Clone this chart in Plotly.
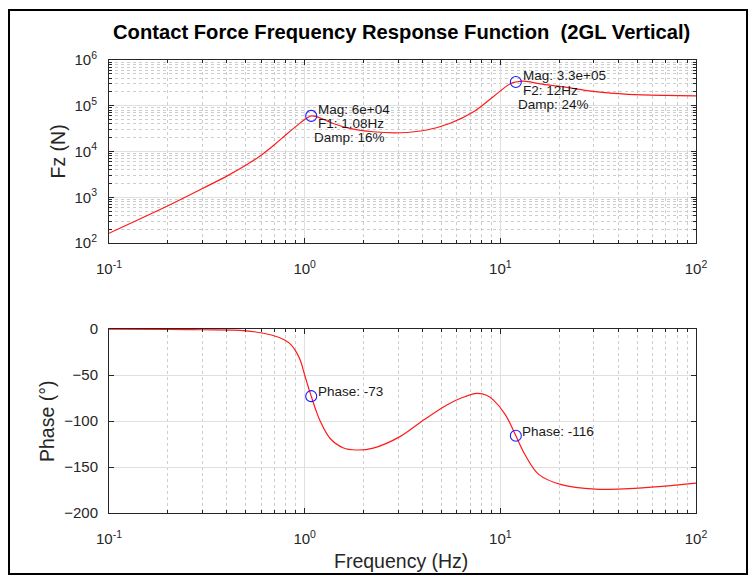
import math
import plotly.graph_objects as go

# ---- data ----
freq_mag = [0.1, 0.2, 0.3, 0.4, 0.5, 0.6, 0.7, 0.8, 0.9, 1.0, 1.08, 1.15, 1.4, 1.7, 2.24, 3.07,
            4.2, 5.5, 7.3, 9.2, 11.2, 12, 13.2, 16, 20.6, 30.6, 45, 70, 100]
mag = [163, 650, 1550, 2900, 5000, 8300, 14000, 23000, 35000, 50000, 60000, 58000, 41000, 32000, 27000, 25700,
       29500, 41000, 74000, 158000, 300000, 330000, 345000, 300000, 261000, 203000, 178000, 168000, 165000]

freq_ph = [0.1, 0.2, 0.3, 0.5, 0.676, 0.79, 0.85, 0.9, 0.95, 1.0, 1.04, 1.08, 1.14, 1.2, 1.35,
           1.57, 1.84, 2.24, 3.07, 4.05, 5.33, 6.4, 7.6, 8.5, 9.2, 10.6, 12, 13.4, 15.7, 20.7, 30.6, 45, 67, 100]
phase = [-0.2, -0.4, -0.8, -2, -6.5, -12, -17, -24, -34, -50, -62, -73, -88, -100, -119,
         -129, -131.5, -129.5, -117, -99, -82.5, -74.5, -70, -72, -77, -93, -116, -137, -158, -169.5,
         -174, -173.5, -171, -167.5]

peak_f = [1.08, 12]
peak_mag = [6e4, 3.3e5]
peak_phase = [-73, -116]
mag_labels = [["Mag: 6e+04", "F1: 1.08Hz", "Damp: 16%"],
              ["Mag: 3.3e+05", "F2: 12Hz", "Damp: 24%"]]
phase_labels = ["Phase: -73", "Phase: -116"]

x_tickvals = [0.1, 1, 10, 100]
x_ticktext = ["10<sup>-1</sup>", "10<sup>0</sup>", "10<sup>1</sup>", "10<sup>2</sup>"]
y_tickvals = [1e2, 1e3, 1e4, 1e5, 1e6]
y_ticktext = ["10<sup>2</sup>", "10<sup>3</sup>", "10<sup>4</sup>", "10<sup>5</sup>", "10<sup>6</sup>"]
ph_tickvals = [-200, -150, -100, -50, 0]

title = "Contact Force Frequency Response Function  (2GL Vertical)"

# ---- layout geometry ----
W, H = 755, 577
L, R, T, B = 109, 59, 60, 64
PW, PH = W - L - R, H - T - B

def px(x):
    return (x - L) / PW

def py(y):
    return (H - B - y) / PH

FONT = "Liberation Sans, Arial, Helvetica, sans-serif"
AX = "#262626"
GRID = "#e0e0e0"
MGRID = "#cdcdcd"

LINE = dict(color="#ff1a1a", width=1.2, shape="spline", smoothing=1.0)
MARK = dict(symbol="circle-open", size=11, color="#1a1aff", line=dict(width=1.1))

fig = go.Figure()
fig.add_trace(go.Scatter(x=freq_mag, y=mag, mode="lines", line=LINE, xaxis="x", yaxis="y", showlegend=False))
fig.add_trace(go.Scatter(x=peak_f, y=peak_mag, mode="markers", marker=MARK, xaxis="x", yaxis="y", showlegend=False))
fig.add_trace(go.Scatter(x=freq_ph, y=phase, mode="lines", line=LINE, xaxis="x2", yaxis="y2", showlegend=False))
fig.add_trace(go.Scatter(x=peak_f, y=peak_phase, mode="markers", marker=MARK, xaxis="x2", yaxis="y2", showlegend=False))

xminor = [v * m for v in (0.1, 1, 10) for m in range(2, 10)]
yminor = [v * m for v in (100, 1000, 10000, 1e5) for m in range(2, 10)]

TF = dict(family=FONT, size=15, color=AX)

def xaxis_common(anchor):
    return dict(type="log", range=[-1, 2], tickmode="array", tickvals=x_tickvals, ticktext=x_ticktext,
                anchor=anchor, showline=True, linecolor=AX, linewidth=1, mirror="allticks",
                ticks="inside", ticklen=5, tickcolor=AX, tickfont=TF,
                showgrid=True, gridcolor=GRID, gridwidth=1, zeroline=False, ticklabelstandoff=12,
                minor=dict(tickvals=xminor, ticks="inside", ticklen=3, tickcolor=AX,
                           showgrid=True, gridcolor=MGRID, griddash="dot", gridwidth=1))

top_lo = (H - B - 243) / PH
bot_hi = (H - B - 329) / PH

fig.update_layout(
    width=W, height=H, margin=dict(l=L, r=R, t=T, b=B),
    paper_bgcolor="white", plot_bgcolor="white",
    font=dict(family=FONT, color=AX),
    xaxis=xaxis_common("y"),
    xaxis2=xaxis_common("y2"),
    yaxis=dict(type="log", range=[2, 6], tickmode="array", tickvals=y_tickvals, ticktext=y_ticktext,
               domain=[top_lo, 1], anchor="x", showline=True, linecolor=AX, linewidth=1, mirror="allticks",
               ticks="inside", ticklen=5, tickcolor=AX, tickfont=TF,
               showgrid=True, gridcolor=GRID, zeroline=False, ticklabelstandoff=8,
               minor=dict(tickvals=yminor, ticks="inside", ticklen=3, tickcolor=AX,
                          showgrid=True, gridcolor=MGRID, griddash="dot", gridwidth=1)),
    yaxis2=dict(range=[-200, 0], tickmode="array", tickvals=ph_tickvals, domain=[0, bot_hi], anchor="x2",
                showline=True, linecolor=AX, linewidth=1, mirror="allticks",
                ticks="inside", ticklen=5, tickcolor=AX, tickfont=TF,
                showgrid=True, gridcolor=GRID, zeroline=False, ticklabelstandoff=7),
)

ann = []
ann.append(dict(text="<b>" + title + "</b>", x=px(401), y=py(32), xref="paper", yref="paper",
                xanchor="center", yanchor="middle", showarrow=False,
                font=dict(family=FONT, size=20.2, color="black")))
ann.append(dict(text="Fz (N)", x=px(57), y=py(151.5), xref="paper", yref="paper", textangle=-90,
                xanchor="center", yanchor="middle", showarrow=False, font=dict(family=FONT, size=19.5, color=AX)))
ann.append(dict(text="Phase (°)", x=px(47), y=py(421), xref="paper", yref="paper", textangle=-90,
                xanchor="center", yanchor="middle", showarrow=False, font=dict(family=FONT, size=19.5, color=AX)))
ann.append(dict(text="Frequency (Hz)", x=px(401), y=py(561), xref="paper", yref="paper",
                xanchor="center", yanchor="middle", showarrow=False, font=dict(family=FONT, size=19.5, color=AX)))

LF = dict(family=FONT, size=13.5, color="#1a1a1a")
offs = [(5, 6.5), (5, -8), (0.5, -22)]
for i in range(2):
    lx = math.log10(peak_f[i])
    for j, (dx, dy) in enumerate(offs):
        ann.append(dict(text=mag_labels[i][j], x=lx, y=math.log10(peak_mag[i]), xref="x", yref="y",
                        xanchor="left", yanchor="middle", showarrow=False, xshift=dx, yshift=dy, font=LF))
    ann.append(dict(text=phase_labels[i], x=lx, y=peak_phase[i], xref="x2", yref="y2",
                    xanchor="left", yanchor="middle", showarrow=False, xshift=4.5, yshift=4.5, font=LF))

fig.update_layout(annotations=ann)
fig.add_shape(type="rect", xref="paper", yref="paper", x0=px(9), x1=px(747), y0=py(574), y1=py(10),
              line=dict(color="black", width=2), fillcolor="rgba(0,0,0,0)")

fig.write_html("out.html")
